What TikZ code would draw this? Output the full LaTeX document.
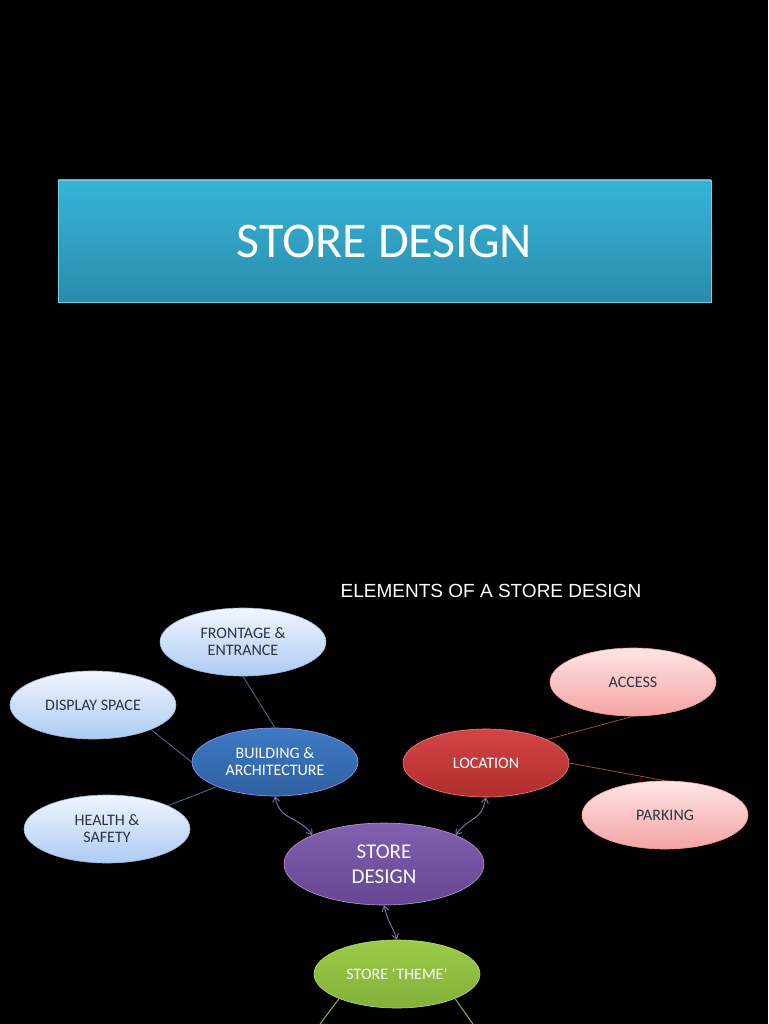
\documentclass[tikz,border=0pt]{standalone}
\usepackage{fontspec}
\setmainfont{Carlito}
\newfontfamily\arialf{Liberation Sans}
\usetikzlibrary{shapes.geometric,arrows.meta}
\definecolor{txtdark}{HTML}{2E3440}
\definecolor{arrowc}{HTML}{8474A8}
\definecolor{lbtop}{HTML}{F0F6FF}
\definecolor{lbbot}{HTML}{ADCBF3}
\definecolor{lbdraw}{HTML}{9DB8E0}
\definecolor{dbtop}{HTML}{3E7AC4}
\definecolor{dbbot}{HTML}{2F5FA0}
\definecolor{pktop}{HTML}{FFE6E6}
\definecolor{pkbot}{HTML}{F5A3A3}
\definecolor{drtop}{HTML}{D44545}
\definecolor{drbot}{HTML}{AE2E2E}
\definecolor{bluel}{HTML}{4C7396}
\definecolor{redl}{HTML}{A04848}
\definecolor{greenl}{HTML}{8CB048}
\definecolor{titletop}{HTML}{35B5DA}
\definecolor{titlebot}{HTML}{2B8BAB}
\definecolor{titledraw}{HTML}{6FD0EA}
\definecolor{sdtop}{HTML}{8060B0}
\definecolor{sdbot}{HTML}{664592}
\definecolor{thtop}{HTML}{9CCB48}
\definecolor{thbot}{HTML}{82B03A}
\tikzset{
  oval/.style={ellipse, minimum width=166pt, minimum height=68pt, inner sep=0pt, align=center, font=\fontsize{16}{17}\selectfont, line width=0.6pt},
  lightblue/.style={oval, top color=lbtop, bottom color=lbbot, draw=lbdraw, text=txtdark},
  darkblue/.style={oval, top color=dbtop, bottom color=dbbot, draw=blue!40!white, text=white},
  pink/.style={oval, top color=pktop, bottom color=pkbot, draw=red!40!white, text=txtdark},
  darkred/.style={oval, top color=drtop, bottom color=drbot, draw=red!50!white, text=white},
  bluelink/.style={draw=bluel, line width=0.8pt},
  redlink/.style={draw=redl, line width=0.8pt},
  greenlink/.style={draw=greenl, line width=1pt},
  twoway/.style={draw=arrowc, line width=0.9pt, {Straight Barb[length=5pt,width=7pt]}-{Straight Barb[length=5pt,width=7pt]}},
}
\begin{document}
\begin{tikzpicture}[x=1pt,y=-1pt]
\fill[black] (0,0) rectangle (768,1024);
\useasboundingbox (0,0) rectangle (768,1024);
% title
\node[draw=titledraw, line width=0.6pt, top color=titletop, bottom color=titlebot, minimum width=653pt, minimum height=122pt, inner sep=0pt, text=white, font=\fontsize{50}{54}\selectfont] (title) at (384.5,241) {STORE DESIGN};
\node[text=white, font=\arialf\fontsize{19}{21}\selectfont] (sub) at (491,591) {ELEMENTS OF A STORE DESIGN};
% nodes
\node[lightblue] (front) at (243,642) {FRONTAGE \&\\ENTRANCE};
\node[lightblue] (disp) at (93,705) {DISPLAY SPACE};
\node[darkblue] (build) at (275,762) {BUILDING \&\\ARCHITECTURE};
\node[lightblue] (health) at (107,829) {HEALTH \&\\SAFETY};
\node[pink] (access) at (633,682) {ACCESS};
\node[darkred] (loc) at (486,763) {LOCATION};
\node[pink] (park) at (665,815) {PARKING};
\node[ellipse, minimum width=200pt, minimum height=82pt, inner sep=0pt, align=center, top color=sdtop, bottom color=sdbot, draw=sdtop!60!white, line width=0.6pt, text=white, font=\fontsize{21}{25}\selectfont] (sd) at (384,864) {STORE\\DESIGN};
\node[oval, top color=thtop, bottom color=thbot, draw=thtop!70!white, text=white] (theme) at (397,974) {STORE `THEME'};
% links
\draw[bluelink] (front.south) -- (build.north);
\draw[bluelink] (disp.-23) -- (build.west);
\draw[bluelink] (health.21) -- (build.-157);
\draw[redlink] (access.south) -- (loc.21);
\draw[redlink] (loc.east) -- (park.north);
% arrows
\draw[twoway] (build.south) .. controls +(5,25) and +(-15,-20) .. (sd.158);
\draw[twoway] (loc.south) .. controls +(-5,25) and +(15,-20) .. (sd.22);
\draw[twoway] (sd.south) .. controls +(5,20) and +(-5,-15) .. (theme.north);
% green links
\coordinate (gl) at (320,1024);
\coordinate (gr) at (473,1024);
\draw[greenlink] (theme.-157) -- (gl);
\draw[greenlink] (theme.-23) -- (gr);
\end{tikzpicture}
\end{document}
